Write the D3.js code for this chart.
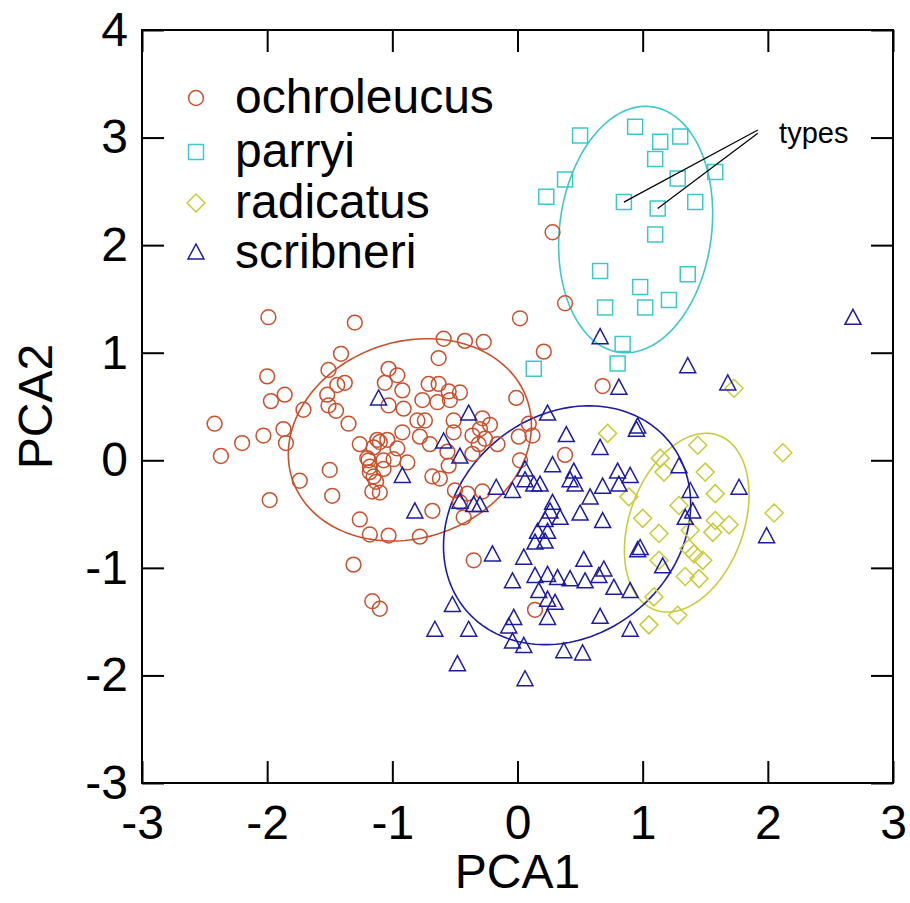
<!DOCTYPE html>
<html><head><meta charset="utf-8">
<script src="https://cdn.jsdelivr.net/npm/d3@7"></script>
<style>body{margin:0;background:#fff}text{font-family:"Liberation Sans",Arial,sans-serif}</style>
</head><body>
<svg id="chart" width="910" height="903"></svg>
<script>
const seriesNames = ["ochroleucus","parryi","radicatus","scribneri"];
const seriesColors = ["#c8502d","#3cc8c8","#c8cc3c","#1c1ca0"];
const xTicks = [-3,-2,-1,0,1,2,3];
const yTicks = [-3,-2,-1,0,1,2,3,4];
const xTitle = "PCA1", yTitle = "PCA2";

const ochroleucus = [[-1.99,1.33],[-1.30,1.28],[-1.41,0.99],[-1.51,0.84],[-1.03,0.85],[-2.00,0.78],[-1.38,0.72],[-1.44,0.70],[-1.86,0.61],[-1.97,0.55],[-1.52,0.61],[-1.51,0.51],[-1.45,0.46],[-1.71,0.47],[-1.06,0.72],[-2.42,0.34],[-1.35,0.34],[-1.87,0.29],[-2.03,0.23],[-2.20,0.16],[-1.85,0.16],[-2.37,0.04],[-1.26,0.15],[-1.12,0.19],[-1.15,0.12],[-1.19,0.00],[-1.07,0.00],[-0.99,0.01],[-1.50,-0.09],[-1.18,-0.11],[-1.74,-0.19],[-1.13,-0.20],[-1.16,-0.29],[-1.10,-0.30],[-1.48,-0.33],[-1.98,-0.37],[-1.26,-0.55],[-1.18,-0.69],[-1.03,-0.70],[-1.31,-0.97],[-1.16,-1.31],[-1.10,-1.38],
[-0.63,0.95],[-0.96,0.79],[-0.92,0.65],[-0.71,0.71],[-0.63,0.71],[-0.55,0.64],[-0.46,0.63],[-0.76,0.56],[-0.64,0.54],[-0.54,0.56],[-1.03,0.51],[-0.91,0.48],[-0.80,0.37],[-0.74,0.37],[-0.51,0.37],[-0.28,0.39],[-0.92,0.26],[-0.78,0.22],[-0.70,0.15],[-0.51,0.26],[-0.36,0.23],[-0.30,0.29],[-0.26,0.20],[-1.10,0.17],[-1.04,0.19],[-0.96,0.11],[-1.20,0.02],[-0.88,-0.02],[-0.56,0.08],[-0.55,-0.05],[-0.36,0.06],[-1.18,-0.06],[-1.15,-0.15],[-1.07,-0.08],[-0.68,-0.15],[-0.62,-0.17],[-0.50,-0.28],[-0.40,-0.31],[-0.28,-0.29],[-0.46,-0.39],[-0.68,-0.47],[-0.43,-0.53],[-0.78,-0.71],
[0.38,1.46],[0.02,1.32],[-0.59,1.13],[-0.42,1.11],[-0.27,1.10],[0.21,1.01],[-0.01,0.58],[-0.22,0.33],[0.09,0.34],[0.12,0.23],[0.38,0.05],[-0.31,0.15],[-0.16,0.15],[0.02,0.00],[0.01,0.22],[0.68,0.69],[-0.35,-0.93],[0.14,-1.39],[0.28,2.12]];

const parryi = [[0.50,3.02],[0.94,3.10],[1.14,2.96],[1.30,3.01],[1.10,2.80],[0.38,2.61],[1.28,2.62],[1.58,2.68],[0.23,2.45],[0.85,2.40],[1.12,2.34],[1.42,2.40],[1.10,2.10],[0.66,1.76],[1.36,1.73],[0.98,1.61],[1.21,1.49],[0.70,1.42],[1.02,1.42],[0.84,1.08],[0.80,0.90],[0.13,0.85]];

const radicatus = [[0.72,0.25],[1.73,0.67],[1.44,0.14],[1.14,0.02],[1.17,-0.11],[1.50,-0.11],[1.58,-0.31],[0.89,-0.34],[1.29,-0.42],[1.00,-0.54],[1.13,-0.68],[1.38,-0.65],[1.58,-0.56],[1.69,-0.60],[1.56,-0.67],[1.37,-0.82],[1.48,-0.93],[1.41,-0.87],[1.13,-0.93],[1.34,-1.08],[1.45,-1.10],[1.09,-1.27],[1.28,-1.44],[1.05,-1.53],[2.12,0.07],[2.05,-0.49]];

const scribneri = [[-1.11,0.57],[-0.39,0.43],[-0.59,0.17],[-0.46,0.03],[-0.92,-0.15],[-0.82,-0.48],[-0.46,-0.39],[-0.35,-0.42],[-0.30,-0.42],
[0.24,0.43],[0.39,0.23],[0.28,-0.05],[0.06,-0.09],[0.45,-0.11],[0.13,-0.23],[-0.17,-0.26],[-0.04,-0.29],[0.28,-0.40],
[0.66,0.11],[0.42,-0.19],[0.46,-0.23],[0.06,-0.19],[0.18,-0.23],[0.68,-0.25],[0.80,-0.11],[0.90,-0.15],[0.81,-0.23],[0.58,-0.35],[0.34,-0.54],[0.22,-0.56],[0.50,-0.50],[0.68,-0.57],[0.16,-0.67],[0.24,-0.67],[0.14,-0.77],[0.22,-0.76],[0.05,-0.91],[-0.20,-0.88],[0.53,-0.93],[0.69,-1.02],[0.96,-0.84],[-0.04,-1.13],[0.14,-1.08],[0.24,-1.07],[0.32,-1.10],[0.42,-1.11],[0.54,-1.13],[0.65,-1.08],[0.77,-1.19],[0.90,-1.22],[0.17,-1.22],[0.24,-1.30],[0.30,-1.33],[-0.52,-1.35],[-0.03,-1.47],[0.24,-1.47],[0.66,-1.46],[-0.07,-1.55],[-0.66,-1.58],[-0.39,-1.58],[-0.04,-1.69],[0.05,-1.73],[0.37,-1.78],[0.52,-1.80],[-0.48,-1.90],[0.06,-2.04],[0.90,-1.58],
[0.66,1.14],[0.81,0.67],[1.36,0.87],[1.68,0.71],[0.96,0.31],[0.95,0.28],[1.29,-0.06],[1.77,-0.26],[1.38,-0.29],[1.40,-0.48],[1.34,-0.54],[0.98,-0.82],[1.16,-0.99],[2.68,1.32],[1.99,-0.71],[0.26,-0.48]];

// ellipses: [centerX, centerY, axis1X, axis1Y, axis2X, axis2Y] in data units
const ellipseOchroleucus = [-0.860, 0.190, 0.935, 0.380, 0.262, -0.860];
const ellipseParryi      = [0.944, 2.145, 0.127, 1.142, 0.602, -0.090];
const ellipseRadicatus   = [1.352, -0.580, 0.254, 0.811, 0.428, -0.181];
const ellipseScribneri   = [0.396, -0.604, 0.809, 0.787, 0.566, -0.783];

// annotation "types"
const typesLabel = "types";
const typesLabelPos = [2.09, 2.95];
const typesLines = [[[0.85,2.40],[1.92,3.07]],[[1.12,2.34],[1.92,3.04]]];

const svg = d3.select("#chart");
const x = d3.scaleLinear().domain([-3,3]).range([142,893]);
const y = d3.scaleLinear().domain([-3,4]).range([783,30]);
const FS = 48;

function circlePath(r){return `M${-r},0a${r},${r} 0 1,0 ${2*r},0a${r},${r} 0 1,0 ${-2*r},0Z`;}
const shapes = {
  circle: circlePath(7.4),
  square: "M-7.5,-7.5H7.5V7.5H-7.5Z",
  diamond: "M0,-9L9,0L0,9L-9,0Z",
  triangle: "M0,-9L8,6H-8Z"
};
const seriesData = [ochroleucus, parryi, radicatus, scribneri];
const seriesShapes = ["circle","square","diamond","triangle"];
const ellipses = [ellipseOchroleucus, ellipseParryi, ellipseRadicatus, ellipseScribneri];

const gB = svg.append("g").attr("transform",`translate(0,${y(-3)})`)
  .call(d3.axisBottom(x).tickValues(xTicks).tickSizeInner(-22).tickSizeOuter(0).tickPadding(22).tickFormat(d=>String(d)));
const gT = svg.append("g").attr("transform",`translate(0,${y(4)})`)
  .call(d3.axisTop(x).tickValues(xTicks).tickSizeInner(-22).tickSizeOuter(0).tickFormat(""));
const gL = svg.append("g").attr("transform",`translate(${x(-3)},0)`)
  .call(d3.axisLeft(y).tickValues(yTicks).tickSizeInner(-22).tickSizeOuter(0).tickPadding(14).tickFormat(d=>String(d)));
const gR = svg.append("g").attr("transform",`translate(${x(3)},0)`)
  .call(d3.axisRight(y).tickValues(yTicks).tickSizeInner(-22).tickSizeOuter(0).tickFormat(""));
[gB,gT,gL,gR].forEach(g=>{
  g.select(".domain").remove();
  g.selectAll("line").attr("stroke","#000").attr("stroke-width",2);
  g.selectAll("text").attr("font-size",FS).attr("fill","#000").attr("font-family",'"Liberation Sans",Arial,sans-serif');
});

svg.append("rect").attr("x",x(-3)).attr("y",y(4)).attr("width",x(3)-x(-3)).attr("height",y(-3)-y(4))
  .attr("fill","none").attr("stroke","#000").attr("stroke-width",2);

const line = d3.line().x(d=>x(d[0])).y(d=>y(d[1]));
ellipses.forEach((e,i)=>{
  const pts = d3.range(0,361,2).map(t=>{
    const a = t*Math.PI/180;
    return [e[0]+e[2]*Math.cos(a)+e[4]*Math.sin(a), e[1]+e[3]*Math.cos(a)+e[5]*Math.sin(a)];
  });
  svg.append("path").attr("d",line(pts)).attr("fill","none")
    .attr("stroke",seriesColors[i]).attr("stroke-width",1.6);
});

seriesData.forEach((data,i)=>{
  svg.append("g").selectAll("path").data(data).join("path")
    .attr("transform",d=>`translate(${x(d[0])},${y(d[1])})`)
    .attr("d",shapes[seriesShapes[i]])
    .attr("fill","none").attr("stroke",seriesColors[i]).attr("stroke-width",1.5);
});

typesLines.forEach(l=>{
  svg.append("path").attr("d",line(l)).attr("stroke","#000").attr("stroke-width",1.2).attr("fill","none");
});
svg.append("text").attr("x",x(typesLabelPos[0])).attr("y",y(typesLabelPos[1]))
  .attr("font-size",29).attr("fill","#000").text(typesLabel);

const legY = [98,152,203,253];
seriesNames.forEach((n,i)=>{
  svg.append("path").attr("transform",`translate(196,${legY[i]})`).attr("d",shapes[seriesShapes[i]])
    .attr("fill","none").attr("stroke",seriesColors[i]).attr("stroke-width",1.5);
  svg.append("text").attr("x",235).attr("y",legY[i]+15).attr("font-size",FS).attr("fill","#000").text(n);
});

svg.append("text").attr("x",(x(-3)+x(3))/2).attr("y",888).attr("text-anchor","middle")
  .attr("font-size",FS).attr("fill","#000").text(xTitle);
svg.append("text").attr("transform",`translate(52,${(y(4)+y(-3))/2})rotate(-90)`).attr("text-anchor","middle")
  .attr("font-size",FS).attr("fill","#000").text(yTitle);
</script>
</body></html>
